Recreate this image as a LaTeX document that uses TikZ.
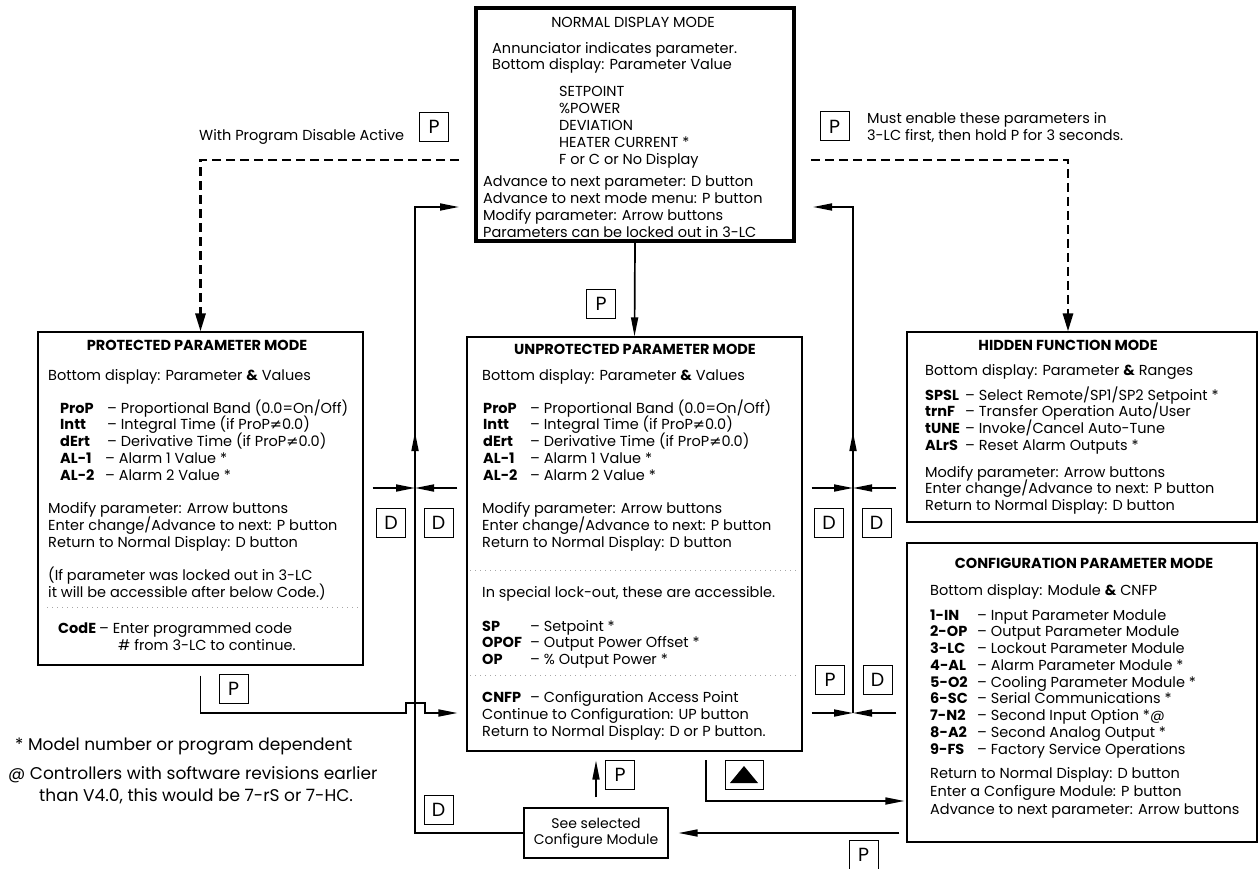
\documentclass[tikz,border=0pt]{standalone}
\usepackage{fontspec}
\setmainfont{Poppins}
\newfontfamily\symfont{DejaVu Sans}
\usetikzlibrary{arrows.meta,calc}
\newcommand{\noteq}{{\symfont ≠}}
% code column + dash + description
\newcommand{\prm}[3]{\makebox[#1][l]{\textbf{#2}}– #3}
% one text node per line, stacked downwards
\newcommand{\textlines}[5]{%
  \foreach \tl [count=\k] in {#5}
    \node[txt] (#1-\k) at (#2,{#3+#4*(\k-1)}) {\tl};}

\begin{document}
\begin{tikzpicture}[x=1pt,y=-1pt,
  modebox/.style={draw,line width=1.1pt,inner sep=0pt},
  keybox/.style={draw,line width=1pt,minimum size=29pt,inner sep=0pt,font=\fontsize{19}{19}\selectfont},
  txt/.style={anchor=base west,inner sep=0pt,font=\fontsize{14.5}{17}\selectfont},
  note/.style={txt,font=\fontsize{17}{20}\selectfont},
  head/.style={anchor=base,inner sep=0pt,font=\fontsize{14.5}{17}\selectfont\bfseries},
  flow/.style={line width=1.7pt,-{Triangle[length=19pt,width=7pt]}},
  dashflow/.style={line width=2.8pt,dash pattern=on 9pt off 5pt,-{Triangle[length=18pt,width=10pt]}},
  sep/.style={gray!70,line width=0.7pt,dash pattern=on 0.7pt off 4.3pt}]

\useasboundingbox (0,0) rectangle (1259,869);

% mode boxes
\node[modebox,line width=4pt,minimum width=318pt,minimum height=233pt] (normal) at (635,124.5) {};
\node[modebox,minimum width=325pt,minimum height=333pt] (prot) at (200.5,498.5) {};
\node[modebox,minimum width=335pt,minimum height=414pt] (unprot) at (634.5,544) {};
\node[modebox,minimum width=350pt,minimum height=190pt] (hidden) at (1082,427) {};
\node[modebox,minimum width=350pt,minimum height=299pt] (config) at (1082,692.5) {};
\node[modebox,minimum width=144pt,minimum height=50pt,align=center,
  font=\fontsize{14}{16}\selectfont] (cfgmod) at (596,833) {See selected\\Configure Module};

% normal display mode
\node[anchor=base,inner sep=0pt,font=\fontsize{14.5}{17}\selectfont] (normal-t) at (633,28) {NORMAL DISPLAY MODE};
\textlines{normal-a}{492}{54}{16}{Annunciator indicates parameter.,Bottom display: Parameter Value}
\textlines{normal-b}{559}{97}{16.8}{SETPOINT,\%POWER,DEVIATION,HEATER CURRENT *,F or C or No Display}
\textlines{normal-c}{483}{187}{16.8}{Advance to next parameter: D button,Advance to next mode menu: P button,Modify parameter: Arrow buttons,Parameters can be locked out in 3-LC}

% protected parameter mode
\node[head] (prot-t) at (197,350) {PROTECTED PARAMETER MODE};
\textlines{prot-a}{48}{380}{17}{Bottom display: Parameter \textbf{\&} Values}
\textlines{prot-b}{60}{413}{16.8}{\prm{47pt}{ProP}{Proportional Band (0.0=On/Off)},\prm{47pt}{Intt}{Integral Time (if ProP\noteq0.0)},\prm{47pt}{dErt}{Derivative Time (if ProP\noteq0.0)},\prm{45pt}{AL-1}{Alarm 1 Value *},\prm{45pt}{AL-2}{Alarm 2 Value *}}
\textlines{prot-c}{48}{513}{17}{Modify parameter: Arrow buttons,Enter change/Advance to next: P button,Return to Normal Display: D button}
\textlines{prot-d}{48}{580}{17}{{(If parameter was locked out in 3-LC},{it will be accessible after below Code.)}}
\draw[sep] (47,607) -- (358,607);
\node[txt] (prot-e) at (58,633) {\prm{41pt}{CodE}{Enter programmed code}};
\node[txt] (prot-f) at (118,650) {\# from 3-LC to continue.};

% unprotected parameter mode
\node[head] (unprot-t) at (635,354) {UNPROTECTED PARAMETER MODE};
\textlines{unprot-a}{482}{380}{17}{Bottom display: Parameter \textbf{\&} Values}
\textlines{unprot-b}{483}{413}{16.8}{\prm{47pt}{ProP}{Proportional Band (0.0=On/Off)},\prm{47pt}{Intt}{Integral Time (if ProP\noteq0.0)},\prm{47pt}{dErt}{Derivative Time (if ProP\noteq0.0)},\prm{47pt}{AL-1}{Alarm 1 Value *},\prm{47pt}{AL-2}{Alarm 2 Value *}}
\textlines{unprot-c}{482}{513}{17}{Modify parameter: Arrow buttons,Enter change/Advance to next: P button,Return to Normal Display: D button}
\draw[sep] (470,570) -- (797,570);
\node[txt] (unprot-d) at (482,597) {In special lock-out, these are accessible.};
\textlines{unprot-e}{482}{631}{16.5}{\prm{48pt}{SP}{Setpoint *},\prm{48pt}{OPOF}{Output Power Offset *},\prm{48pt}{OP}{\% Output Power *}}
\draw[sep] (470,675) -- (797,675);
\textlines{unprot-f}{482}{702}{17}{\prm{48pt}{CNFP}{Configuration Access Point},Continue to Configuration: UP button,Return to Normal Display: D or P button.}

% hidden function mode
\node[head] (hidden-t) at (1068,350) {HIDDEN FUNCTION MODE};
\textlines{hidden-a}{925}{375}{17}{Bottom display: Parameter \textbf{\&} Ranges}
\textlines{hidden-b}{925}{400}{16.7}{\prm{40pt}{SPSL}{Select Remote/SP1/SP2 Setpoint *},\prm{40pt}{trnF}{Transfer Operation Auto/User},\prm{40pt}{tUNE}{Invoke/Cancel Auto-Tune},\prm{40pt}{ALrS}{Reset Alarm Outputs *}}
\textlines{hidden-c}{925}{477}{16.5}{Modify parameter: Arrow buttons,Enter change/Advance to next: P button,Return to Normal Display: D button}

% configuration parameter mode
\node[head] (config-t) at (1084,568) {CONFIGURATION PARAMETER MODE};
\textlines{config-a}{930}{595}{17}{Bottom display: Module \textbf{\&} CNFP}
\textlines{config-b}{930}{620}{16.75}{\prm{47pt}{1-IN}{Input Parameter Module},\prm{47pt}{2-OP}{Output Parameter Module},\prm{47pt}{3-LC}{Lockout Parameter Module},\prm{47pt}{4-AL}{Alarm Parameter Module *},\prm{47pt}{5-O2}{Cooling Parameter Module *},\prm{47pt}{6-SC}{Serial Communications *},\prm{47pt}{7-N2}{Second Input Option *@},\prm{47pt}{8-A2}{Second Analog Output *},\prm{47pt}{9-FS}{Factory Service Operations}}
\textlines{config-c}{930}{778}{18}{Return to Normal Display: D button,Enter a Configure Module: P button,Advance to next parameter: Arrow buttons}

% notes
\node[note] (note-1) at (15,750) {* Model number or program dependent};
\node[note] (note-2) at (8,779) {@ Controllers with software revisions earlier};
\node[note] (note-3) at (39,801) {than V4.0, this would be 7-rS or 7-HC.};
\node[txt] (protnote) at (199,141) {With Program Disable Active};
\textlines{hidnote}{867}{124}{17}{Must enable these parameters in,{3-LC first, then hold P for 3 seconds.}}

% keys
\node[keybox] (pnorm) at (601,304) {P};
\node[keybox] (pprot) at (434,127) {P};
\node[keybox] (phid) at (834.5,126.5) {P};
\node[keybox] (dl1) at (391,522.5) {D};
\node[keybox] (dl2) at (438.5,522.5) {D};
\node[keybox] (dr1) at (829,522.5) {D};
\node[keybox] (dr2) at (876.5,522.5) {D};
\node[keybox] (pcnfp) at (830,680) {P};
\node[keybox] (dcfg) at (877.5,680) {D};
\node[keybox] (pcode) at (233.5,688.5) {P};
\node[keybox] (dmod) at (438.5,809.5) {D};
\node[keybox] (pmod) at (620,775) {P};
\node[keybox,minimum width=38pt] (upkey) at (744,775) {};
\fill ([shift={(-14pt,-8pt)}]upkey.center) -- ([shift={(14pt,-8pt)}]upkey.center) -- ([shift={(0pt,9pt)}]upkey.center) -- cycle;
\node[keybox] (penter) at (863.5,855) {P};

% junction points
\coordinate (ydash) at (0,160);
\coordinate (yD) at (0,488);
\coordinate (yP) at (0,713);
\coordinate (yup) at (0,801);
\coordinate (ltop) at (415,207);
\coordinate (rtop) at (853,207);
\coordinate (lmid) at (415,432);
\coordinate (rmid) at (853,432);
\coordinate (tridn) at (706,760);

% connectors
\draw[flow] (normal.south) -- (unprot.north);
\draw[dashflow] ([xshift=-15pt]normal.west |- ydash) -| (prot.north);
\draw[dashflow] ([xshift=15pt]normal.east |- ydash) -| ([xshift=-14pt]hidden.north);
\draw[flow] (cfgmod.west) -| (ltop) -- ([xshift=-15pt]normal.west |- ltop);
\draw[flow] ($(lmid)+(0,38)$) -- (lmid);
\draw[flow] ([xshift=9pt]prot.east |- yD) -- (ltop |- yD);
\draw[flow] ([xshift=-9pt]unprot.west |- yD) -- (ltop |- yD);
\draw[flow] ([yshift=-10pt]prot.south) |- (406,713) -- (406,703) -- (425,703) -- (425,713) -- ([xshift=-9pt]unprot.west |- yP);
\draw[flow] (rtop |- yP) -- (rtop) -- ([xshift=17pt]normal.east |- rtop);
\draw[flow] ($(rmid)+(0,38)$) -- (rmid);
\draw[flow] ([xshift=9pt]unprot.east |- yD) -- (rtop |- yD);
\draw[flow] ([xshift=-10pt]hidden.west |- yD) -- (rtop |- yD);
\draw[flow] ([xshift=9pt]unprot.east |- yP) -- (rtop |- yP);
\draw[flow] ([xshift=-10pt]config.west |- yP) -- (rtop |- yP);
\draw[flow] (tridn) |- ([xshift=-2pt]config.west |- yup);
\draw[flow] ([yshift=10pt]cfgmod.north) -- ([yshift=-9pt]unprot.south -| cfgmod.north);
\draw[flow] ([xshift=-7pt]config.west |- cfgmod.east) -- ([xshift=10pt]cfgmod.east);
\end{tikzpicture}
\end{document}
